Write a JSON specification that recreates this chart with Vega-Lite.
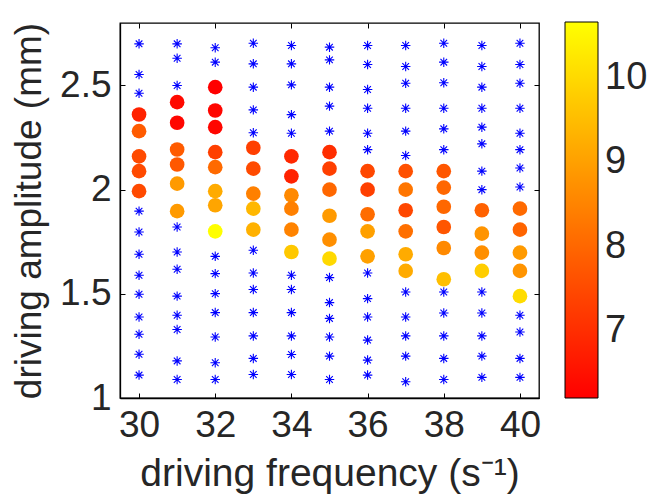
{
  "$schema": "https://vega.github.io/schema/vega-lite/v6.json",
  "autosize": "none",
  "width": 419,
  "height": 375,
  "padding": {"left": 120, "top": 23, "right": 110, "bottom": 102},
  "background": "white",
  "config": {
    "font": "Liberation Sans",
    "view": {"stroke": "black", "strokeWidth": 1.3},
    "axis": {"grid": false, "domainColor": "black", "domainWidth": 1.3, "tickColor": "black", "tickWidth": 1, "labelColor": "#262626", "titleColor": "#262626", "labelFont": "Liberation Sans", "titleFont": "Liberation Sans", "titleFontWeight": "normal"}
  },
  "datasets": {
    "stars": [
      {"f":30,"a":2.700},{"f":30,"a":2.553},{"f":30,"a":2.463},{"f":30,"a":1.897},{"f":30,"a":1.797},{"f":30,"a":1.690},{"f":30,"a":1.589},{"f":30,"a":1.498},{"f":30,"a":1.389},{"f":30,"a":1.306},{"f":30,"a":1.210},{"f":30,"a":1.110},
      {"f":31,"a":2.700},{"f":31,"a":2.631},{"f":31,"a":2.500},{"f":31,"a":1.821},{"f":31,"a":1.701},{"f":31,"a":1.618},{"f":31,"a":1.489},{"f":31,"a":1.397},{"f":31,"a":1.329},{"f":31,"a":1.178},{"f":31,"a":1.089},
      {"f":32,"a":2.681},{"f":32,"a":2.612},{"f":32,"a":1.680},{"f":32,"a":1.597},{"f":32,"a":1.501},{"f":32,"a":1.410},{"f":32,"a":1.293},{"f":32,"a":1.169},{"f":32,"a":1.089},
      {"f":33,"a":2.703},{"f":33,"a":2.604},{"f":33,"a":2.492},{"f":33,"a":2.383},{"f":33,"a":2.273},{"f":33,"a":1.709},{"f":33,"a":1.600},{"f":33,"a":1.521},{"f":33,"a":1.410},{"f":33,"a":1.298},{"f":33,"a":1.190},{"f":33,"a":1.113},
      {"f":34,"a":2.692},{"f":34,"a":2.604},{"f":34,"a":2.503},{"f":34,"a":2.360},{"f":34,"a":2.271},{"f":34,"a":1.589},{"f":34,"a":1.521},{"f":34,"a":1.410},{"f":34,"a":1.298},{"f":34,"a":1.209},{"f":34,"a":1.113},
      {"f":35,"a":2.684},{"f":35,"a":2.623},{"f":35,"a":2.492},{"f":35,"a":2.401},{"f":35,"a":2.281},{"f":35,"a":1.578},{"f":35,"a":1.458},{"f":35,"a":1.382},{"f":35,"a":1.293},{"f":35,"a":1.201},{"f":35,"a":1.089},
      {"f":36,"a":2.692},{"f":36,"a":2.601},{"f":36,"a":2.481},{"f":36,"a":2.391},{"f":36,"a":2.271},{"f":36,"a":2.192},{"f":36,"a":1.600},{"f":36,"a":1.477},{"f":36,"a":1.389},{"f":36,"a":1.278},{"f":36,"a":1.182},{"f":36,"a":1.110},
      {"f":37,"a":2.692},{"f":37,"a":2.591},{"f":37,"a":2.511},{"f":37,"a":2.391},{"f":37,"a":2.281},{"f":37,"a":2.164},{"f":37,"a":1.509},{"f":37,"a":1.389},{"f":37,"a":1.298},{"f":37,"a":1.201},{"f":37,"a":1.078},
      {"f":38,"a":2.703},{"f":38,"a":2.612},{"f":38,"a":2.513},{"f":38,"a":2.391},{"f":38,"a":2.292},{"f":38,"a":2.192},{"f":38,"a":1.509},{"f":38,"a":1.408},{"f":38,"a":1.298},{"f":38,"a":1.190},{"f":38,"a":1.089},
      {"f":39,"a":2.692},{"f":39,"a":2.591},{"f":39,"a":2.492},{"f":39,"a":2.391},{"f":39,"a":2.300},{"f":39,"a":2.220},{"f":39,"a":2.089},{"f":39,"a":2.000},{"f":39,"a":1.509},{"f":39,"a":1.408},{"f":39,"a":1.298},{"f":39,"a":1.201},{"f":39,"a":1.099},
      {"f":40,"a":2.703},{"f":40,"a":2.601},{"f":40,"a":2.511},{"f":40,"a":2.391},{"f":40,"a":2.271},{"f":40,"a":2.192},{"f":40,"a":2.104},{"f":40,"a":2.013},{"f":40,"a":1.397},{"f":40,"a":1.317},{"f":40,"a":1.190},{"f":40,"a":1.099}
    ],
    "dots": [
      {"f":30,"a":2.361,"v":6.8},{"f":30,"a":2.281,"v":7.8},{"f":30,"a":2.160,"v":7.5},{"f":30,"a":2.089,"v":7.5},{"f":30,"a":1.993,"v":7.5},
      {"f":31,"a":2.420,"v":6.35},{"f":31,"a":2.321,"v":6.3},{"f":31,"a":2.193,"v":7.8},{"f":31,"a":2.121,"v":7.75},{"f":31,"a":2.029,"v":8.9},{"f":31,"a":1.897,"v":8.9},
      {"f":32,"a":2.492,"v":6.2},{"f":32,"a":2.380,"v":6.3},{"f":32,"a":2.300,"v":6.3},{"f":32,"a":2.180,"v":7.3},{"f":32,"a":2.108,"v":8.05},{"f":32,"a":1.993,"v":9.2},{"f":32,"a":1.925,"v":9.1},{"f":32,"a":1.800,"v":10.65},
      {"f":33,"a":2.201,"v":7.3},{"f":33,"a":2.101,"v":7.5},{"f":33,"a":1.981,"v":8.44},{"f":33,"a":1.909,"v":9.4},{"f":33,"a":1.808,"v":9.3},
      {"f":34,"a":2.160,"v":6.9},{"f":34,"a":2.064,"v":6.8},{"f":34,"a":1.973,"v":8.6},{"f":34,"a":1.909,"v":8.45},{"f":34,"a":1.808,"v":8.5},{"f":34,"a":1.701,"v":9.7},
      {"f":35,"a":2.180,"v":7.0},{"f":35,"a":2.101,"v":7.3},{"f":35,"a":2.000,"v":8.0},{"f":35,"a":1.875,"v":8.9},{"f":35,"a":1.760,"v":8.7},{"f":35,"a":1.669,"v":10.0},
      {"f":36,"a":2.089,"v":7.45},{"f":36,"a":2.000,"v":7.3},{"f":36,"a":1.882,"v":8.1},{"f":36,"a":1.800,"v":9.0},{"f":36,"a":1.680,"v":9.0},
      {"f":37,"a":2.089,"v":7.6},{"f":37,"a":2.000,"v":8.25},{"f":37,"a":1.901,"v":7.45},{"f":37,"a":1.800,"v":8.15},{"f":37,"a":1.690,"v":9.2},{"f":37,"a":1.610,"v":9.2},
      {"f":38,"a":2.089,"v":7.7},{"f":38,"a":2.010,"v":8.0},{"f":38,"a":1.918,"v":8.0},{"f":38,"a":1.821,"v":7.7},{"f":38,"a":1.720,"v":8.6},{"f":38,"a":1.570,"v":9.55},
      {"f":39,"a":1.901,"v":7.9},{"f":39,"a":1.789,"v":8.8},{"f":39,"a":1.698,"v":8.7},{"f":39,"a":1.610,"v":9.8},
      {"f":40,"a":1.909,"v":8.05},{"f":40,"a":1.808,"v":7.95},{"f":40,"a":1.698,"v":8.9},{"f":40,"a":1.610,"v":8.8},{"f":40,"a":1.489,"v":10.05}
    ]
  },
  "layer": [
    {
      "data": {"name": "stars"},
      "mark": {"type": "point", "shape": "M-1,0H1M0,-1V1M-0.7,-0.7L0.7,0.7M-0.7,0.7L0.7,-0.7", "filled": false, "color": "#0000ff", "strokeWidth": 1.1, "size": 90, "opacity": 1},
      "encoding": {
        "x": {"field": "f", "type": "quantitative", "scale": {"domain": [29.5, 40.5], "nice": false, "zero": false},
              "axis": {"orient": "bottom", "values": [30,32,34,36,38,40], "tickSize": -5, "labelPadding": 14, "labelFontSize": 37, "title": "driving frequency (s⁻¹)", "titleFontSize": 39, "titleBaseline": "alphabetic", "titleY": 87}},
        "y": {"field": "a", "type": "quantitative", "scale": {"domain": [1, 2.8], "nice": false, "zero": false},
              "axis": {"orient": "left", "values": [1,1.5,2,2.5], "format": "~g", "tickSize": -5, "labelPadding": 14, "labelFontSize": 37, "title": "driving amplitude (mm)", "titleFontSize": 37, "titleBaseline": "alphabetic", "titleAngle": 270, "titleX": -80, "titleY": 187.5}}
      }
    },
    {
      "data": {"name": "dots"},
      "mark": {"type": "circle", "size": 215, "opacity": 1},
      "encoding": {
        "x": {"field": "f", "type": "quantitative", "axis": {"orient": "top", "values": [30,32,34,36,38,40], "labels": false, "tickSize": -5, "domain": false, "title": null}},
        "y": {"field": "a", "type": "quantitative", "axis": {"orient": "right", "values": [1,1.5,2,2.5], "labels": false, "tickSize": -5, "domain": false, "title": null}},
        "color": {"field": "v", "type": "quantitative",
                  "scale": {"domain": [6.2, 10.67], "range": ["#ff0000", "#ffff00"], "interpolate": "rgb"},
                  "legend": {"orient": "none", "legendX": 445, "legendY": -1, "direction": "vertical", "title": null, "gradientLength": 376, "gradientThickness": 33, "gradientStrokeColor": "black", "gradientStrokeWidth": 1, "values": [7,8,9,10], "labelFontSize": 38, "labelColor": "#262626", "labelOffset": 7, "labelOverlap": false, "padding": 0}}
      }
    }
  ],
  "resolve": {"axis": {"x": "independent", "y": "independent"}}
}
